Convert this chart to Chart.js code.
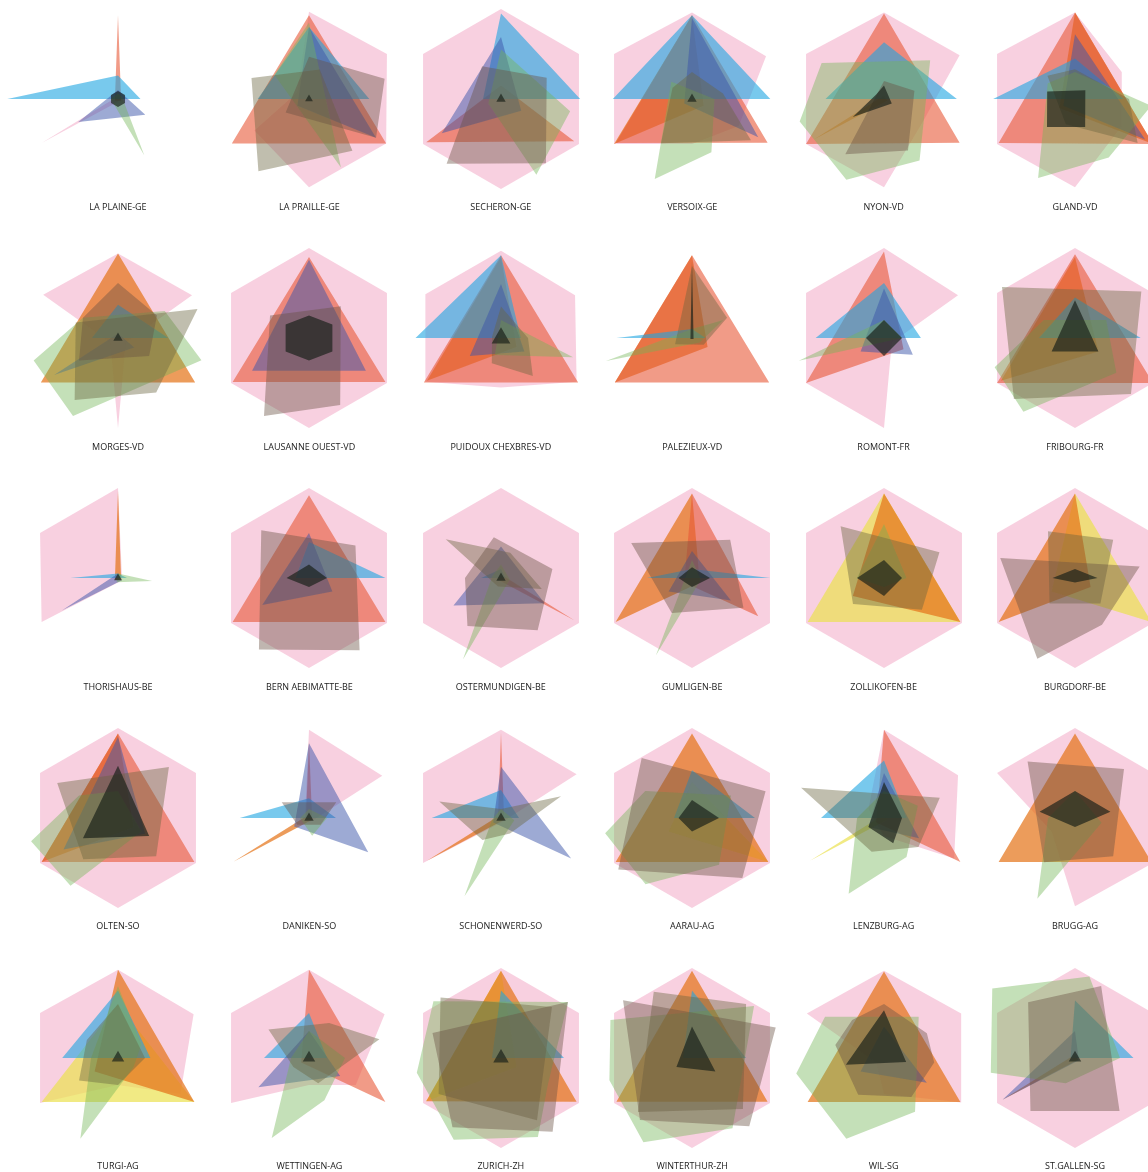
<!DOCTYPE html>
<html>
<head>
<meta charset="utf-8">
<script src="https://cdn.jsdelivr.net/npm/chart.js@4.4.1/dist/chart.umd.min.js"></script>
<style>
  html, body { margin: 0; padding: 0; background: #fff; }
  #board { position: relative; width: 1148px; height: 1172px; overflow: hidden; }
  #board canvas { position: absolute; }
  .station {
    position: absolute; width: 191px; text-align: center;
    font-family: "Open Sans", "Noto Sans", sans-serif; font-size: 9px;
    color: #222; line-height: 12px;
  }
</style>
</head>
<body>
<div id="board"></div>
<script>
// Station radar small multiples
const stations = [
    'LA PLAINE-GE', 'LA PRAILLE-GE', 'SECHERON-GE', 'VERSOIX-GE', 'NYON-VD', 'GLAND-VD',
    'MORGES-VD', 'LAUSANNE OUEST-VD', 'PUIDOUX CHEXBRES-VD', 'PALEZIEUX-VD', 'ROMONT-FR', 'FRIBOURG-FR',
    'THORISHAUS-BE', 'BERN AEBIMATTE-BE', 'OSTERMUNDIGEN-BE', 'GUMLIGEN-BE', 'ZOLLIKOFEN-BE', 'BURGDORF-BE',
    'OLTEN-SO', 'DANIKEN-SO', 'SCHONENWERD-SO', 'AARAU-AG', 'LENZBURG-AG', 'BRUGG-AG',
    'TURGI-AG', 'WETTINGEN-AG', 'ZURICH-ZH', 'WINTERTHUR-ZH', 'WIL-SG', 'ST.GALLEN-SG'
];

// axis directions in degrees, clockwise from top
const hexAxes = [0, 60, 120, 180, 240, 300];
const triAxes = [0, 120, 240];
const crossAxes = [0, 90, 270];

const pink = [
    [0.03, 0.03, 0.03, 0.03, 0.98, 0.03], [0.97, 1.0, 0.99, 0.98, 0.7, 0.15], [1, 1, 1, 1, 1, 1],
    [0.96, 0.95, 0.6, 0.5, 1, 1], [0.96, 0.97, 0.5, 0.98, 1, 1], [0.96, 0.6, 0.6, 0.98, 1, 1],
    [0.94, 0.95, 0.1, 1.0, 0.1, 0.96], [1, 1, 1, 1, 1, 1], [0.97, 0.95, 0.97, 0.55, 0.97, 0.97],
    null, [1.0, 0.95, 0.1, 1.0, 1.0, 1.0], [1, 1, 1, 1, 1, 1],
    [1.0, 0.05, 0.05, 0.05, 0.98, 1.0], [1, 1, 1, 1, 1, 1], [1, 1, 1, 1, 1, 1],
    [1, 1, 1, 1, 1, 1], [1, 1, 1, 1, 1, 1], [1, 1, 1, 1, 1, 1],
    [1, 1, 1, 1, 1, 1], [0.98, 0.94, 0.05, 0.05, 0.05, 0.05], [0.98, 0.97, 0.05, 0.05, 1.0, 1.0],
    [1, 1, 1, 1, 1, 1], [0.98, 0.95, 0.9, 0.2, 0.1, 0.2], [1, 1, 1, 0.98, 0.3, 1],
    [0.98, 0.97, 0.8, 0.3, 1.0, 1.0], [0.98, 0.97, 0.6, 0.3, 1.0, 1.0], [1, 1, 1, 1, 1, 1],
    [1, 1, 1, 1, 1, 1], [0.97, 0.99, 0.99, 0.4, 0.1, 0.99], [1, 1, 1, 1, 1, 1]
];

const red = [
    [0.93, 0.04, 0.04], [0.93, 0.99, 0.99], [0.15, 0.94, 0.96], [0.93, 0.97, 0.98], [0.95, 0.97, 1.0], [0.96, 1.0, 0.98],
    null, [0.9, 0.98, 0.98], [0.92, 0.99, 0.99], [0.92, 0.99, 0.99], [0.96, 0.25, 1.0], [0.93, 1.0, 1.0],
    null, [0.92, 0.98, 0.98], [0.04, 0.94, 0.04], [0.94, 0.85, 0.1], null, null,
    [0.94, 0.98, 0.98], [0.85, 0.04, 0.04], [0.95, 0.04, 0.04], null, [0.98, 0.98, 0.1], null,
    null, [0.98, 0.98, 0.1], null, null, null, null
];

const orange = [
    null, null, null, [0.93, 0.15, 1.0], [0.04, 0.04, 0.9], [0.96, 1.0, 0.2],
    [0.94, 0.99, 0.99], null, [0.9, 0.2, 0.95], [0.92, 0.2, 0.99], null, [0.9, 0.3, 0.95],
    [0.97, 0.04, 0.04], null, null, [0.94, 0.1, 0.98], [0.94, 0.98, 0.4], [0.94, 0.2, 0.98],
    [0.94, 0.2, 0.98], [0.04, 0.04, 0.97], [0.04, 0.04, 0.95], [0.94, 0.98, 0.98], null, [0.94, 0.98, 0.98],
    [0.98, 0.98, 0.3], null, [0.97, 0.97, 0.96], [0.97, 0.97, 0.97], [0.96, 0.98, 0.98], [0.04, 0.04, 0.93]
];

const yellow = [
    null, null, null, null, null, null,
    null, null, null, null, null, null,
    null, null, null, null, [0.94, 0.98, 0.98], [0.94, 0.98, 0.3],
    null, null, null, [0.4, 0.98, 0.3], [0.04, 0.04, 0.95], null,
    [0.6, 0.98, 0.98], null, [0.97, 0.2, 0.96], null, null, null
];

const cyan = [
    [0.26, 0.25, 1.23], [0.8, 0.67, 0.57], [0.95, 0.88, 0.2], [0.93, 0.87, 0.88], [0.63, 0.81, 0.65], [0.45, 0.54, 0.91],
    [0.37, 0.56, 0.29], null, [0.92, 0.22, 0.95], [0.1, 0.15, 0.84], [0.61, 0.41, 0.76], [0.45, 0.73, 0.4],
    [0.05, 0.1, 0.53], [0.4, 0.85, 0.15], [0.1, 0.05, 0.22], [0.1, 0.87, 0.5], null, null,
    null, [0.22, 0.3, 0.77], [0.31, 0.2, 0.77], [0.53, 0.7, 0.2], [0.64, 0.25, 0.7], null,
    [0.75, 0.36, 0.62], [0.5, 0.2, 0.5], [0.75, 0.7, 0.1], [0.75, 0.6, 0.1], null, [0.64, 0.65, 0.05]
];

const steel = [
    [0.1, 0.35, 0.51], [0.8, 0.86, 0.15], [0.69, 0.26, 0.76], [0.9, 0.85, 0.1], null, [0.72, 0.9, 0.15],
    [0.05, 0.21, 0.82], [0.87, 0.73, 0.73], [0.6, 0.3, 0.4], null, [0.55, 0.37, 0.3], null,
    [0.05, 0.05, 0.72], [0.5, 0.3, 0.6], [0.35, 0.56, 0.61], [0.3, 0.5, 0.3], null, null,
    [0.9, 0.35, 0.7], [0.83, 0.76, 0.19], [0.57, 0.9, 0.1], null, [0.5, 0.45, 0.2], null,
    null, [0.3, 0.4, 0.65], null, null, [0.35, 0.55, 0.3], [0.3, 0.05, 0.93]
];

// free-form layers: [direction, value] pairs
const green = [
    [[0, 0.06], [60, 0.05], [155, 0.69], [270, 0.08]],
    [[0, 0.85], [155, 0.84], [305, 0.47]],
    [[0, 0.55], [100, 0.78], [155, 0.93], [250, 0.15]],
    [[90, 0.25], [160, 0.63], [205, 0.98], [310, 0.3]],
    [[50, 0.67], [150, 0.79], [205, 0.99], [255, 0.97], [300, 0.8]],
    [[0, 0.3], [95, 0.85], [150, 0.75], [205, 0.97], [300, 0.35]],
    [[60, 0.6], [105, 0.96], [210, 1.0], [255, 0.97], [300, 0.45]],
    null,
    [[0, 0.2], [105, 0.83], [200, 0.2]],
    [[0, 0.1], [60, 0.4], [120, 0.1], [255, 0.99]],
    [[0, 0.2], [90, 0.2], [255, 0.98]],
    [[60, 0.4], [130, 0.6], [215, 1.0], [250, 0.95], [300, 0.4]],
    [[0, 0.05], [95, 0.38], [200, 0.05]],
    null,
    [[0, 0.15], [100, 0.1], [205, 1.0], [280, 0.1]],
    [[0, 0.2], [100, 0.1], [205, 0.95]],
    [[0, 0.6], [90, 0.25], [180, 0.1], [270, 0.3]],
    null,
    [[0, 0.3], [120, 0.3], [215, 0.92], [255, 1.0], [300, 0.5]],
    [[0, 0.1], [90, 0.2], [170, 0.2], [270, 0.1]],
    [[0, 0.1], [100, 0.15], [205, 0.96], [260, 0.1]],
    [[60, 0.5], [150, 0.6], [215, 0.9], [260, 0.98], [300, 0.6]],
    [[0, 0.3], [70, 0.4], [150, 0.5], [205, 0.93], [270, 0.3]],
    [[0, 0.3], [100, 0.3], [205, 0.99], [270, 0.3]],
    [[0, 0.8], [60, 0.3], [120, 0.2], [205, 0.99], [270, 0.3]],
    [[0, 0.3], [90, 0.4], [160, 0.5], [205, 0.98], [270, 0.2]],
    [[50, 0.97], [120, 0.6], [155, 0.97], [210, 1.05], [260, 0.95], [310, 0.98]],
    [[50, 0.9], [150, 0.9], [210, 1.08], [255, 0.95], [295, 1.0]],
    [[40, 0.6], [150, 0.69], [205, 0.99], [260, 0.99], [305, 0.8]],
    [[10, 0.92], [90, 0.5], [200, 0.3], [260, 0.95], [310, 1.2]]
];

const olive = [
    null,
    [[20, 0.35], [140, 0.75], [215, 0.98], [290, 0.68]],
    null,
    [[0, 0.3], [80, 0.35], [125, 0.8], [215, 0.6], [300, 0.25]],
    null,
    [[0, 0.33], [90, 0.6], [125, 0.85], [200, 0.3], [310, 0.4]],
    [[70, 0.94], [145, 0.74], [215, 0.84], [290, 0.5]],
    null,
    [[0, 0.35], [90, 0.3], [140, 0.55], [200, 0.3], [280, 0.1]],
    [[0, 0.8], [60, 0.45], [120, 0.15], [250, 0.2]],
    null,
    [[55, 0.9], [135, 0.88], [225, 0.96], [305, 0.99]],
    null,
    null,
    [[20, 0.3], [105, 0.47], [200, 0.1], [305, 0.75]],
    null,
    [[65, 0.68], [130, 0.55], [230, 0.45], [320, 0.75]],
    [[45, 0.6], [135, 0.4], [225, 0.4], [330, 0.6]],
    [[45, 0.8], [135, 0.6], [220, 0.6], [300, 0.78]],
    null,
    [[0, 0.1], [70, 0.71], [150, 0.2], [220, 0.32], [285, 0.71]],
    null,
    [[70, 0.66], [130, 0.5], [200, 0.4], [290, 0.98]],
    null,
    [[0, 0.6], [90, 0.3], [180, 0.3], [240, 0.5], [300, 0.4]],
    [[30, 0.45], [75, 0.81], [160, 0.3], [240, 0.2], [305, 0.55]],
    [[45, 0.8], [150, 0.8], [240, 0.8], [315, 0.95]],
    [[45, 0.85], [135, 0.8], [225, 0.85], [330, 0.85]],
    null,
    null
];

const taupe = [
    null,
    [[0, 0.47], [75, 0.87], [120, 0.86], [240, 0.3]],
    [[65, 0.56], [145, 0.87], [220, 0.94], [330, 0.42]],
    null,
    [[0, 0.2], [75, 0.35], [155, 0.63], [215, 0.75]],
    null,
    [[0, 0.61], [60, 0.5], [120, 0.4], [240, 0.5], [300, 0.45]],
    [[45, 0.5], [155, 0.82], [210, 1.0], [300, 0.5]],
    null, null, null, null,
    null,
    [[55, 0.63], [145, 0.98], [215, 0.97], [315, 0.75]],
    [[80, 0.58], [145, 0.71], [215, 0.65], [270, 0.4], [350, 0.46]],
    [[45, 0.6], [120, 0.66], [210, 0.45], [300, 0.78]],
    null,
    [[80, 0.73], [150, 0.6], [205, 0.99], [285, 0.86]],
    null,
    [[60, 0.35], [120, 0.15], [240, 0.15], [300, 0.35]],
    null,
    [[70, 0.87], [140, 0.87], [235, 1.0], [320, 0.87]],
    null,
    [[45, 0.77], [135, 0.6], [215, 0.6], [320, 0.82]],
    null,
    null,
    [[50, 0.97], [145, 1.0], [215, 0.94], [290, 0.81]],
    [[70, 0.99], [140, 0.99], [220, 0.9], [310, 1.0]],
    [[0, 0.6], [60, 0.55], [95, 0.56], [145, 0.53], [215, 0.5], [285, 0.56], [320, 0.55]],
    [[20, 0.85], [140, 0.77], [220, 0.77], [320, 0.81]]
];

const core = [
    [[0, 0.09], [60, 0.09], [120, 0.09], [180, 0.09], [240, 0.09], [300, 0.09]],
    [[0, 0.05], [120, 0.05], [240, 0.05]],
    [[0, 0.06], [120, 0.06], [240, 0.06]],
    [[0, 0.06], [120, 0.06], [240, 0.06]],
    [[0, 0.15], [120, 0.1], [240, 0.4], [300, 0.1]],
    [[50, 0.15], [160, 0.33], [225, 0.44], [285, 0.32]],
    [[0, 0.06], [120, 0.06], [240, 0.06]],
    [[0, 0.25], [60, 0.3], [120, 0.3], [180, 0.25], [240, 0.3], [300, 0.3]],
    [[0, 0.12], [120, 0.12], [240, 0.12]],
    [[0, 0.85], [120, 0.02], [240, 0.02]],
    [[0, 0.2], [90, 0.2], [180, 0.2], [270, 0.2]],
    [[0, 0.42], [120, 0.3], [240, 0.3]],
    [[0, 0.05], [120, 0.05], [240, 0.05]],
    [[0, 0.15], [90, 0.2], [180, 0.1], [270, 0.25]],
    [[0, 0.06], [120, 0.06], [240, 0.06]],
    [[0, 0.12], [90, 0.2], [180, 0.1], [270, 0.15]],
    [[0, 0.2], [90, 0.2], [180, 0.2], [270, 0.3]],
    [[0, 0.1], [90, 0.25], [180, 0.05], [270, 0.25]],
    [[0, 0.58], [120, 0.4], [240, 0.45]],
    [[0, 0.06], [120, 0.06], [240, 0.06]],
    [[0, 0.06], [120, 0.06], [240, 0.06]],
    [[0, 0.2], [90, 0.3], [180, 0.15], [270, 0.15]],
    [[0, 0.4], [90, 0.2], [160, 0.3], [240, 0.2]],
    [[0, 0.3], [80, 0.4], [180, 0.1], [280, 0.4]],
    [[0, 0.08], [120, 0.08], [240, 0.08]],
    [[0, 0.08], [120, 0.08], [240, 0.08]],
    [[0, 0.1], [120, 0.1], [240, 0.1]],
    [[0, 0.35], [120, 0.3], [240, 0.2]],
    [[0, 0.53], [100, 0.25], [260, 0.43]],
    [[0, 0.08], [120, 0.08], [240, 0.08]]
];

// layer colours, top layer first (Chart.js paints dataset 0 last)
const layerColors = {
    core: 'rgba(25, 32, 25, 0.68)',
    taupe: 'rgba(105, 82, 66, 0.42)',
    olive: 'rgba(105, 100, 62, 0.42)',
    green: 'rgba(115, 180, 85, 0.42)',
    steel: 'rgba(60, 85, 170, 0.5)',
    cyan: 'rgba(30, 165, 225, 0.6)',
    red: 'rgba(232, 88, 55, 0.6)',
    orange: 'rgba(228, 118, 28, 0.72)',
    yellow: 'rgba(235, 225, 80, 0.7)',
    pink: 'rgba(235, 120, 165, 0.35)'
};

const layers = [
    { key: 'core', pairs: core },
    { key: 'taupe', pairs: taupe },
    { key: 'olive', pairs: olive },
    { key: 'green', pairs: green },
    { key: 'steel', axes: triAxes, values: steel },
    { key: 'cyan', axes: crossAxes, values: cyan },
    { key: 'red', axes: triAxes, values: red },
    { key: 'orange', axes: triAxes, values: orange },
    { key: 'yellow', axes: triAxes, values: yellow },
    { key: 'pink', axes: hexAxes, values: pink }
];

const STEP = 5;
const angleLabels = [];
for (let a = 0; a < 360; a += STEP) angleLabels.push(a + '°');

function toSeries(pairs) {
    const out = angleLabels.map(() => null);
    pairs.forEach(([deg, v]) => { out[Math.round(deg / STEP) % out.length] = v; });
    return out;
}

function layerPairs(layer, i) {
    if (layer.pairs) return layer.pairs[i];
    const vals = layer.values[i];
    if (!vals) return null;
    return layer.axes.map((deg, k) => [deg, vals[k]]);
}

const COL_X0 = 118, COL_DX = 191.4;
const ROW_Y0 = 98.5, ROW_DY = 239.75;
const SIZE = 250;          // canvas box
const RADIUS = 90;         // pixel radius of value 1

const board = document.getElementById('board');

stations.forEach((name, i) => {
    const cx = COL_X0 + (i % 6) * COL_DX;
    const cy = ROW_Y0 + Math.floor(i / 6) * ROW_DY;

    const canvas = document.createElement('canvas');
    canvas.width = SIZE;
    canvas.height = SIZE;
    canvas.style.left = (cx - SIZE / 2) + 'px';
    canvas.style.top = (cy - SIZE / 2) + 'px';
    board.appendChild(canvas);

    const label = document.createElement('div');
    label.className = 'station';
    label.textContent = name;
    label.style.left = (cx - 95.5) + 'px';
    label.style.top = (cy + 108.5 - 6) + 'px';
    board.appendChild(label);

    const datasets = [];
    layers.forEach(layer => {
        const pairs = layerPairs(layer, i);
        if (!pairs) return;
        datasets.push({
            label: layer.key,
            data: toSeries(pairs),
            backgroundColor: layerColors[layer.key],
            borderWidth: 0,
            pointRadius: 0,
            pointHoverRadius: 0,
            fill: true,
            spanGaps: true,
            clip: false
        });
    });

    new Chart(canvas, {
        type: 'radar',
        data: { labels: angleLabels, datasets },
        options: {
            responsive: false,
            animation: false,
            events: [],
            layout: { padding: 0 },
            plugins: { legend: { display: false }, tooltip: { enabled: false } },
            elements: { line: { tension: 0 } },
            scales: {
                r: {
                    display: false,
                    min: 0,
                    max: (SIZE / 2) / RADIUS
                }
            }
        }
    });
});
</script>
</body>
</html>
